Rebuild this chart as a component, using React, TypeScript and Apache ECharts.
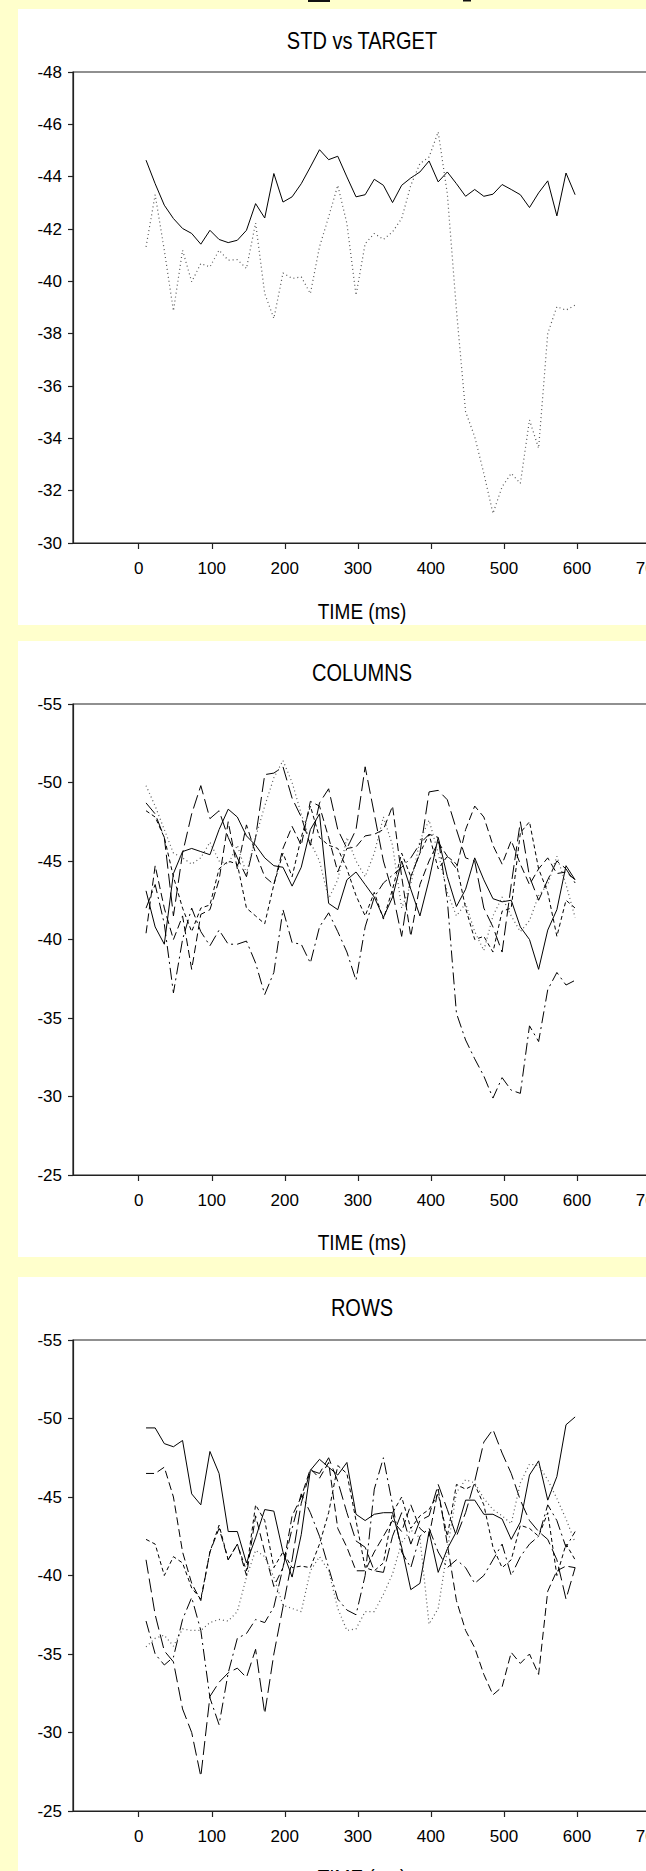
import React, { useEffect, useRef } from "react";
import * as echarts from "echarts";

// ---------- data ----------
const TIME_MS = [
  10, 22.5, 35, 47.5, 60, 72.5, 85, 97.5, 110, 122.5, 135, 147.5, 160, 172.5, 185, 197.5,
  210, 222.5, 235, 247.5, 260, 272.5, 285, 297.5, 310, 322.5, 335, 347.5, 360, 372.5, 385, 397.5,
  410, 422.5, 435, 447.5, 460, 472.5, 485, 497.5, 510, 522.5, 535, 547.5, 560, 572.5, 585, 597.5,
];

const STD = [
  -44.63, -43.73, -42.91, -42.4, -42.02, -41.83, -41.42, -41.95, -41.6, -41.48, -41.57, -41.95,
  -42.97, -42.42, -44.12, -43.03, -43.23, -43.73, -44.37, -45.03, -44.65, -44.78, -43.99, -43.23,
  -43.31, -43.9, -43.67, -43.01, -43.67, -43.95, -44.18, -44.6, -43.8, -44.18, -43.73, -43.25,
  -43.51, -43.25, -43.33, -43.7, -43.51, -43.31, -42.82, -43.38, -43.84, -42.5, -44.14, -43.31,
];
const TARGET = [
  -41.32, -43.31, -41.19, -38.87, -41.19, -39.98, -40.68, -40.55, -41.19, -40.81, -40.83, -40.49,
  -42.23, -39.53, -38.58, -40.32, -40.11, -40.17, -39.53, -41.32, -42.46, -43.67, -42.21, -39.47,
  -41.44, -41.83, -41.6, -41.89, -42.4, -43.67, -44.5, -44.75, -45.71, -43.35, -38.9, -35.02,
  -34.06, -32.66, -31.13, -32.15, -32.66, -32.28, -34.7, -33.62, -38.01, -39.03, -38.9, -39.09,
];

const COL_SOLID = [
  -43.1, -40.8, -39.7, -44.2, -45.6, -45.8, -45.6, -45.4, -47.0, -48.3, -47.8, -46.6,
  -46.0, -45.2, -44.7, -44.6, -43.4, -44.6, -47.0, -48.0, -42.3, -41.9, -43.8, -44.3,
  -43.5, -42.7, -41.4, -42.7, -45.0, -43.2, -41.5, -43.8, -46.5, -44.0, -42.1, -43.2,
  -45.2, -43.8, -42.6, -42.4, -42.5, -40.8, -40.0, -38.1, -40.6, -41.9, -44.7, -43.8,
];
const COL_LONG = [
  -48.7, -48.0, -46.5, -41.5, -45.5, -48.0, -49.8, -47.7, -48.2, -46.5, -45.2, -44.0,
  -46.5, -50.5, -50.6, -51.0, -49.0, -47.8, -46.0, -48.7, -49.6, -47.0, -45.8, -47.0,
  -51.0, -48.0, -45.0, -43.0, -40.2, -44.0, -45.5, -49.4, -49.5, -48.9, -47.0, -45.2,
  -45.0, -42.0, -40.8, -39.2, -43.5, -47.5, -44.0, -42.5, -43.8, -45.0, -44.5, -43.6,
];
const COL_MED = [
  -40.4, -44.7, -42.0, -40.0, -41.5, -38.1, -41.6, -41.9, -43.8, -47.5, -44.5, -47.3,
  -45.5, -44.0, -43.5, -45.8, -47.2, -46.0, -48.8, -48.5, -46.5, -44.3, -45.8, -45.9,
  -46.6, -46.7, -47.0, -48.5, -44.0, -40.2, -43.5, -45.0, -46.2, -45.3, -44.5, -47.0,
  -48.5, -47.8, -46.0, -44.8, -46.3, -44.8, -43.5, -44.5, -45.2, -44.2, -44.3, -43.8,
];
const COL_SHORT = [
  -48.2, -47.8, -46.5, -44.0, -42.0, -40.5, -42.0, -42.2, -44.5, -45.0, -44.8, -42.0,
  -41.5, -41.0, -43.5, -45.5, -44.0, -46.5, -48.5, -46.5, -46.0, -45.8, -44.5, -42.8,
  -41.5, -43.0, -41.3, -43.2, -45.5, -44.0, -45.5, -46.7, -44.5, -45.3, -44.8, -42.0,
  -40.0, -40.2, -39.2, -41.8, -42.0, -46.8, -47.5, -44.5, -43.0, -40.2, -42.5, -42.0,
];
const COL_DOT = [
  -49.8, -48.5, -47.0, -45.5, -45.2, -44.8, -45.2, -46.2, -45.0, -44.8, -46.0, -44.2,
  -46.5, -48.5, -50.3, -51.4, -50.0, -48.0, -46.2, -45.0, -42.6, -43.8, -46.5, -45.0,
  -44.0, -45.5, -47.8, -46.0, -42.0, -43.5, -46.3, -47.6, -45.5, -43.0, -41.5, -42.3,
  -40.5, -39.3, -41.5, -42.7, -41.5, -40.5, -41.2, -42.8, -43.5, -45.3, -43.5, -41.4,
];
const COL_DASHDOT = [
  -42.0, -43.5, -41.0, -36.6, -40.0, -42.0, -40.5, -39.6, -40.6, -39.7, -39.7, -39.9,
  -38.5, -36.5, -37.9, -41.9, -39.8, -39.7, -38.5, -40.8, -41.7, -40.5, -39.2, -37.4,
  -40.8, -42.7, -43.6, -44.1, -44.6, -45.2, -46.1, -46.7, -46.5, -42.5, -35.3, -33.6,
  -32.4, -31.3, -29.9, -31.2, -30.4, -30.2, -34.5, -33.5, -36.8, -37.9, -37.1, -37.4,
];

const ROW_SOLID = [
  -49.4, -49.4, -48.4, -48.2, -48.6, -45.2, -44.5, -47.9, -46.5, -42.8, -42.8, -40.8,
  -42.4, -44.2, -44.1, -41.5, -39.9, -42.6, -46.7, -47.4, -46.9, -46.4, -47.2, -43.9,
  -43.5, -43.9, -44.0, -44.0, -41.8, -39.1, -39.5, -42.8, -40.2, -41.7, -42.8, -44.8,
  -44.8, -43.9, -43.9, -43.6, -42.3, -43.4, -46.4, -47.3, -44.8, -46.3, -49.6, -50.1,
];
const ROW_LONG = [
  -41.0, -37.5, -35.2, -34.5, -31.5, -30.0, -27.2, -32.3, -33.2, -33.8, -34.1, -33.5,
  -35.3, -31.2, -35.0, -38.0, -41.0, -44.6, -46.7, -46.5, -47.5, -46.0, -44.0, -42.2,
  -41.8, -40.3, -40.2, -42.5, -44.0, -42.0, -43.5, -43.8, -45.8, -44.2, -42.5, -44.0,
  -46.0, -48.5, -49.3, -47.8, -46.5, -44.8, -43.5, -42.8, -42.3, -41.0, -38.5, -40.5,
];
const ROW_MED = [
  -46.5, -46.5, -46.9, -45.0, -41.5, -39.5, -38.4, -41.5, -43.0, -41.0, -42.0, -40.0,
  -43.8, -41.5, -39.3, -40.5, -43.8, -45.0, -46.8, -46.2, -47.2, -43.0, -41.8, -40.3,
  -40.3, -41.5, -42.5, -43.5, -42.8, -44.5, -43.0, -42.5, -45.5, -42.0, -38.4, -36.5,
  -35.4, -33.7, -32.4, -32.9, -35.1, -34.4, -35.0, -33.7, -39.0, -40.3, -40.6, -40.5,
];
const ROW_SHORT = [
  -42.3, -42.0, -40.0, -41.2, -40.8, -39.2, -38.5, -41.5, -43.2, -41.0, -42.0, -40.3,
  -44.5, -43.5, -40.5, -41.5, -40.5, -40.6, -40.5, -42.0, -44.0, -47.0, -46.5, -43.5,
  -40.5, -40.3, -40.8, -44.0, -45.0, -43.0, -43.8, -44.2, -45.2, -42.5, -45.8, -45.5,
  -45.8, -44.5, -41.8, -40.5, -41.0, -43.2, -43.0, -42.5, -44.0, -40.0, -42.0, -41.0,
];
const ROW_DASHDOT = [
  -37.1, -35.0, -34.3, -34.8, -37.2, -38.6, -36.5, -32.2, -30.5, -33.8, -36.0, -36.3,
  -37.2, -37.0, -38.0, -40.5, -43.0, -45.2, -44.0, -42.5, -40.5, -38.5, -37.8, -37.5,
  -40.0, -45.5, -47.5, -44.5, -41.5, -40.5, -42.5, -43.0, -41.5, -40.5, -41.0, -40.5,
  -39.5, -40.0, -41.0, -42.0, -40.0, -41.2, -42.0, -42.5, -44.5, -43.5, -41.8, -42.8,
];
const ROW_DOT = [
  -35.45, -36.0, -36.2, -35.5, -36.6, -36.5, -36.5, -37.0, -37.2, -37.1, -37.7, -39.9,
  -41.6, -41.2, -39.9, -38.1, -37.9, -37.7, -40.3, -41.2, -40.3, -37.9, -36.5, -36.6,
  -37.7, -37.7, -38.8, -40.1, -42.1, -42.9, -42.4, -36.9, -37.9, -41.6, -45.3, -46.1,
  -45.9, -44.9, -44.2, -43.8, -43.3, -45.9, -47.1, -47.0, -46.1, -44.9, -43.6, -42.1,
];

const PANEL_TITLES = ["STD vs TARGET", "COLUMNS", "ROWS"];
const X_NAME = "TIME (ms)";
const X_TICKS = [0, 100, 200, 300, 400, 500, 600, 700];
const Y_RANGES = [
  { min: -48, max: -30, interval: 2 },
  { min: -55, max: -25, interval: 5 },
  { min: -55, max: -25, interval: 5 },
];

// ---------- styles ----------
const FONT = "'Liberation Sans', Arial, Helvetica, sans-serif";
const STYLE_SOLID = { color: "#000", width: 1, type: "solid" as any };
const STYLE_LONG = { color: "#000", width: 1, type: [14, 5] as any };
const STYLE_MED = { color: "#000", width: 1, type: [8, 4] as any };
const STYLE_SHORT = { color: "#000", width: 1, type: [4, 3] as any };
const STYLE_DOT = { color: "#555", width: 1.2, type: [1, 3] as any };
const STYLE_DASHDOT = { color: "#000", width: 1, type: [12, 4, 2, 4] as any };

const GRID_LEFT = 73;
const GRID_WIDTH = 577;
const GRID_HEIGHT = 471;
const GRID_TOPS = [72, 704, 1340];
const PANEL_TOPS = [9, 641, 1277];
const PANEL_HEIGHTS = [616, 616, 700];
const PANEL_LEFT = 18;
const TITLE_Y = [41, 673, 1308];
const NAME_Y = [611, 1242, 1877];
const X_CENTER = 362;

export default function App() {
  const ref = useRef<HTMLDivElement>(null);

  useEffect(() => {
    if (!ref.current) return;
    const chart = echarts.init(ref.current, null, { renderer: "svg" });

    const panels = [
      [
        { name: "STD", data: STD, style: STYLE_SOLID },
        { name: "TARGET", data: TARGET, style: STYLE_DOT },
      ],
      [
        { name: "C1", data: COL_SOLID, style: STYLE_SOLID },
        { name: "C2", data: COL_LONG, style: STYLE_LONG },
        { name: "C3", data: COL_MED, style: STYLE_MED },
        { name: "C4", data: COL_SHORT, style: STYLE_SHORT },
        { name: "C5", data: COL_DOT, style: STYLE_DOT },
        { name: "C6", data: COL_DASHDOT, style: STYLE_DASHDOT },
      ],
      [
        { name: "R1", data: ROW_SOLID, style: STYLE_SOLID },
        { name: "R2", data: ROW_LONG, style: STYLE_LONG },
        { name: "R3", data: ROW_MED, style: STYLE_MED },
        { name: "R4", data: ROW_SHORT, style: STYLE_SHORT },
        { name: "R5", data: ROW_DOT, style: STYLE_DOT },
        { name: "R6", data: ROW_DASHDOT, style: STYLE_DASHDOT },
      ],
    ];

    const grids = GRID_TOPS.map((top) => ({
      left: GRID_LEFT,
      top,
      width: GRID_WIDTH,
      height: GRID_HEIGHT,
      show: true,
      borderColor: "#222",
      borderWidth: 1.2,
      backgroundColor: "transparent",
    }));

    const xAxes = GRID_TOPS.map((_, i) => ({
      type: "value",
      gridIndex: i,
      min: -90,
      max: 700,
      axisLine: { show: true, onZero: false, lineStyle: { color: "#222", width: 1.2 } },
      axisTick: {
        show: true,
        inside: false,
        length: 6,
        lineStyle: { color: "#222", width: 1.2 },
        customValues: X_TICKS,
      },
      axisLabel: {
        show: true,
        margin: 17,
        color: "#000",
        fontSize: 17,
        fontFamily: FONT,
        customValues: X_TICKS,
      },
      splitLine: { show: false },
    }));

    const yAxes = Y_RANGES.map((r, i) => ({
      type: "value",
      gridIndex: i,
      inverse: true,
      min: r.min,
      max: r.max,
      interval: r.interval,
      axisLine: { show: true, onZero: false, lineStyle: { color: "#222", width: 1.2 } },
      axisTick: { show: true, inside: false, length: 5, lineStyle: { color: "#222", width: 1.2 } },
      axisLabel: {
        show: true,
        margin: 11,
        color: "#000",
        fontSize: 17,
        fontFamily: FONT,
      },
      splitLine: { show: false },
    }));

    const series: any[] = [];
    panels.forEach((list, pi) => {
      list.forEach((s) => {
        series.push({
          type: "line",
          name: s.name,
          xAxisIndex: pi,
          yAxisIndex: pi,
          data: TIME_MS.map((t, k) => [t, s.data[k]]),
          showSymbol: false,
          symbol: "none",
          lineStyle: s.style,
          z: 3,
        });
      });
    });

    const graphic: any[] = [];
    PANEL_TOPS.forEach((top, i) => {
      graphic.push({
        type: "rect",
        z: -10,
        shape: { x: PANEL_LEFT, y: top, width: 760, height: PANEL_HEIGHTS[i] },
        style: { fill: "#ffffff" },
        silent: true,
      });
    });
    // fragments of the cut-off heading above the first panel
    graphic.push({ type: "rect", z: -5, shape: { x: 308, y: 0, width: 22, height: 2 }, style: { fill: "#111" } });
    graphic.push({ type: "rect", z: -5, shape: { x: 463, y: 0, width: 8, height: 1.5 }, style: { fill: "#111" } });

    PANEL_TITLES.forEach((t, i) => {
      graphic.push({
        type: "text",
        z: 5,
        x: X_CENTER,
        y: TITLE_Y[i],
        scaleY: 1.2,
        style: {
          text: t,
          fill: "#000",
          font: `20px ${FONT}`,
          textAlign: "center",
          textVerticalAlign: "middle",
        },
      });
      graphic.push({
        type: "text",
        z: 5,
        x: X_CENTER,
        y: NAME_Y[i],
        scaleY: 1.2,
        style: {
          text: X_NAME,
          fill: "#000",
          font: `19px ${FONT}`,
          textAlign: "center",
          textVerticalAlign: "middle",
        },
      });
    });

    chart.setOption({
      animation: false,
      backgroundColor: "#FFFFCC",
      grid: grids,
      xAxis: xAxes,
      yAxis: yAxes,
      series,
      graphic,
    });

    return () => chart.dispose();
  }, []);

  return (
    <div
      style={{
        position: "absolute",
        left: 0,
        top: 0,
        width: 646,
        height: 1871,
        overflow: "hidden",
        background: "#FFFFCC",
      }}
    >
      <div ref={ref} style={{ width: 700, height: 1871 }} />
    </div>
  );
}
